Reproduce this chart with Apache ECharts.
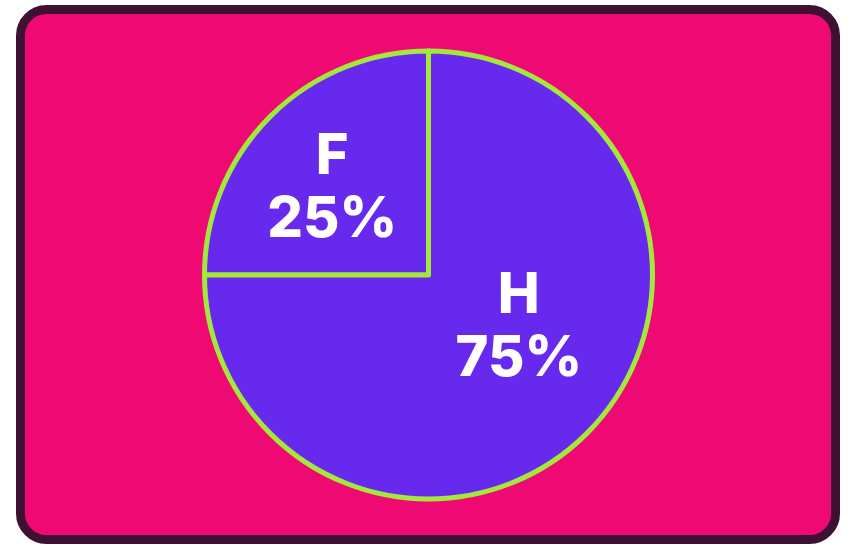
<!DOCTYPE html>
<html><head><meta charset="utf-8">
<style>html,body{margin:0;padding:0;background:#fff}#c{width:856px;height:548px}</style>
<script src="https://cdn.jsdelivr.net/npm/echarts@6/dist/echarts.min.js"></script>
</head><body><div id="c"></div>
<script>
const categories = ['F', 'H'];
const values = [25, 75];

const labelOffsets = [[-15, -5], [9, -29]];
const chart = echarts.init(document.getElementById('c'), null, {renderer: 'canvas'});
chart.setOption({
  backgroundColor: '#ffffff',
  animation: false,
  graphic: [{
    type: 'rect', z: -10, silent: true,
    shape: {x: 20.5, y: 9.5, width: 815, height: 530, r: 26},
    style: {fill: '#EE0A72', stroke: '#3E1133', lineWidth: 9}
  }],
  series: [{
    type: 'pie',
    center: [428.5, 275],
    radius: [0, 224],
    startAngle: 180,
    clockwise: true,
    silent: true,
    itemStyle: {color: '#6829EE', borderColor: '#A4E83B', borderWidth: 5},
    label: {
      show: true, position: 'inside',
      formatter: p => p.name + '\n' + p.value + '%',
      color: '#ffffff', fontFamily: 'Inter', fontWeight: 800, fontSize: 56,
      lineHeight: 63, align: 'center'
    },
    labelLine: {show: false},
    data: categories.map((n, i) => ({name: n, value: values[i], label: {offset: labelOffsets[i]}}))
  }]
});
</script></body></html>
